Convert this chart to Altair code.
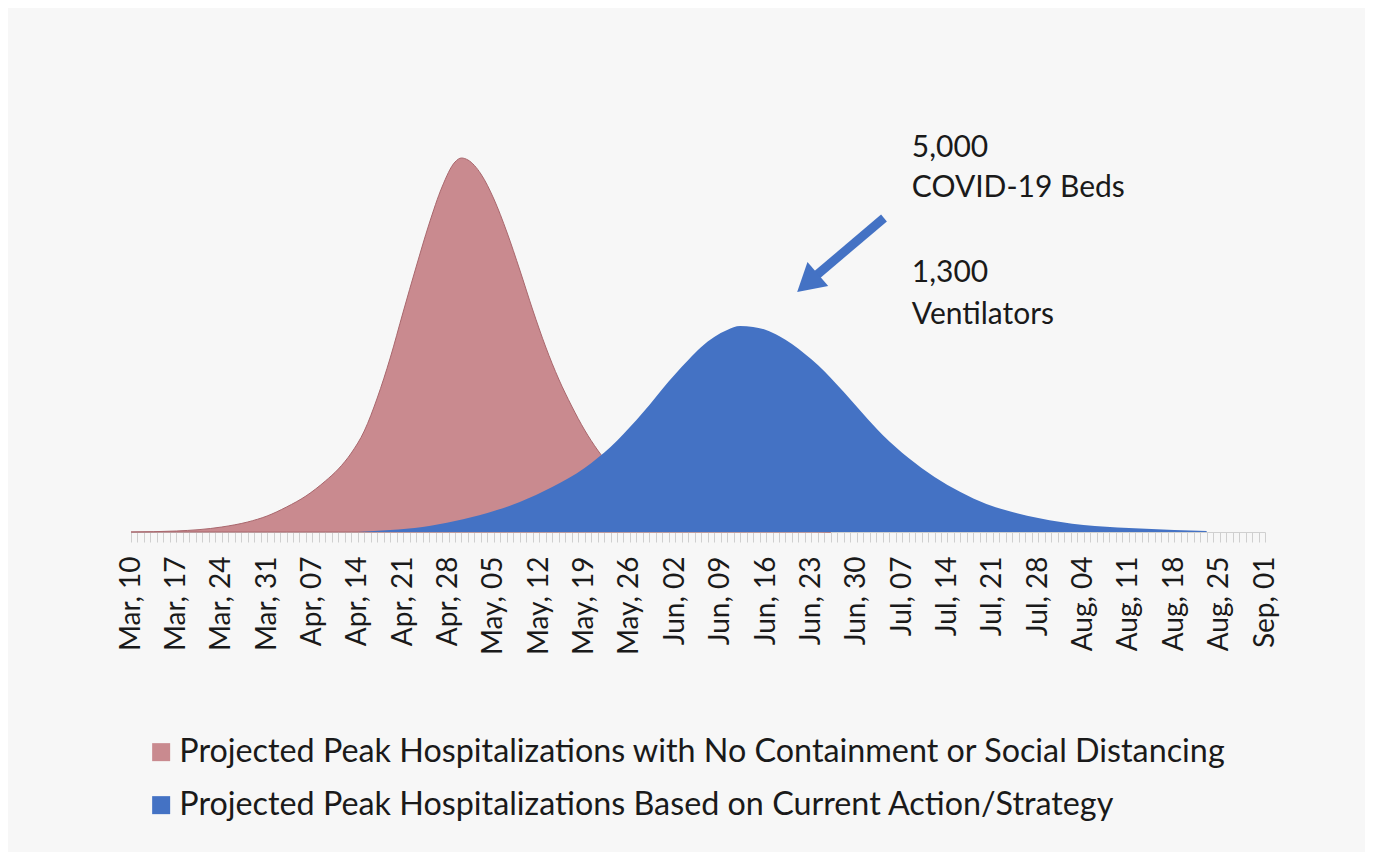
import json
import altair as alt
import pandas as pd

# ---- data (day offsets from Mar 10, 2020; relative heights) ----
tick_labels = ["Mar, 10", "Mar, 17", "Mar, 24", "Mar, 31", "Apr, 07", "Apr, 14", "Apr, 21",
               "Apr, 28", "May, 05", "May, 12", "May, 19", "May, 26", "Jun, 02", "Jun, 09",
               "Jun, 16", "Jun, 23", "Jun, 30", "Jul, 07", "Jul, 14", "Jul, 21", "Jul, 28",
               "Aug, 04", "Aug, 11", "Aug, 18", "Aug, 25", "Sep, 01"]

red_days = [0, 7, 14, 18, 21, 24, 27, 30, 32, 34, 36, 38, 40, 42, 44, 46, 48, 50, 51, 52,
            54, 56, 58, 60, 62, 64, 66, 68, 70, 72, 75, 78, 82, 86, 90, 95, 100, 108]
red_vals = [0, 1, 5, 10, 16, 25, 36, 51, 63, 79, 101, 134, 174, 220, 265, 308, 345, 370, 374,
            372, 358, 333, 300, 262, 222, 185, 153, 126, 102, 82, 58, 40, 24, 14, 8, 4, 2, 0]

blue_days = [35, 40, 45, 50, 55, 60, 65, 70, 72, 74, 76, 78, 80, 82, 84, 86, 88, 90, 92, 94,
             96, 98, 100, 102, 104, 106, 110, 113, 116, 120, 124, 128, 132, 136, 140, 147,
             154, 161, 166]
blue_vals = [0, 2, 5, 11, 19, 30, 45, 64, 74, 85, 98, 112, 127, 143, 158, 172, 185, 195, 202,
             206, 205, 202, 196, 188, 178, 167, 140, 118, 97, 74, 55, 40, 28, 20, 14, 7, 4, 2,
             1]

S_RED = "Projected Peak Hospitalizations with No Containment or Social Distancing"
S_BLUE = "Projected Peak Hospitalizations Based on Current Action/Strategy"

ann_text = ["5,000", "COVID-19 Beds", "1,300", "Ventilators"]
ann_day = [120.5, 120.5, 120.5, 120.5]
ann_val = [384, 344, 259, 217]

arrow_start = (116.2, 314)
arrow_end = (105.1, 253)
arrow_head = (104.4, 249)

RED = "#c98a8f"
BLUE = "#4472c4"
FONT = "Lato"
TEXT = "#1a1a1a"

red_df = pd.DataFrame({"day": red_days, "value": red_vals, "series": S_RED})
blue_df = pd.DataFrame({"day": blue_days, "value": blue_vals, "series": S_BLUE})
ann_df = pd.DataFrame({"day": ann_day, "value": ann_val, "text": ann_text})
arrow_df = pd.DataFrame({"day": [arrow_start[0]], "value": [arrow_start[1]],
                         "day2": [arrow_end[0]], "value2": [arrow_end[1]]})
head_df = pd.DataFrame({"day": [arrow_head[0]], "value": [arrow_head[1]]})

label_expr = ("datum.value % 7 === 0 ? " + json.dumps(tick_labels) +
              "[datum.value / 7] : ''")

x_enc = alt.X("day:Q",
              scale=alt.Scale(domain=[0, 175], nice=False, zero=False),
              axis=alt.Axis(values=list(range(176)), tickCount=400, labelExpr=label_expr,
                            labelAngle=-90, labelFont=FONT, labelFontSize=28,
                            labelColor=TEXT, labelPadding=14, labelOverlap=False,
                            labelFlush=False, tickSize=10, tickColor="#cfcfcf",
                            domainColor="#d0d0d0", grid=False, title=None))
y_enc = alt.Y("value:Q", scale=alt.Scale(domain=[0, 400], nice=False), axis=None)

color_enc = alt.Color("series:N",
                      scale=alt.Scale(domain=[S_RED, S_BLUE], range=[RED, BLUE]),
                      legend=alt.Legend(title=None, orient="none", legendX=14, legendY=604,
                                        symbolType="square", symbolSize=324,
                                        symbolStrokeWidth=0, labelFont=FONT,
                                        labelFontSize=32.3, labelColor=TEXT, labelLimit=0,
                                        rowPadding=20, labelOffset=2))

red_area = alt.Chart(red_df).mark_area(interpolate="monotone", stroke="#a9676d",
                                       strokeWidth=1).encode(x=x_enc, y=y_enc, color=color_enc)
blue_area = alt.Chart(blue_df).mark_area(interpolate="monotone").encode(
    x="day:Q", y="value:Q", color=color_enc)

ann = alt.Chart(ann_df).mark_text(align="left", baseline="middle", font=FONT, fontSize=30,
                                  color=TEXT).encode(x="day:Q", y="value:Q", text="text:N")

shaft = alt.Chart(arrow_df).mark_rule(color=BLUE, strokeWidth=9).encode(
    x="day:Q", y="value:Q", x2="day2:Q", y2="value2:Q")
head = alt.Chart(head_df).mark_point(shape="triangle-up", filled=True, size=1000, angle=229,
                                     color=BLUE, opacity=1).encode(x="day:Q", y="value:Q")

chart = alt.layer(red_area, blue_area, shaft, head, ann).properties(
    width=1134, height=400,
    background="#f7f7f7",
    padding={"left": 123, "top": 124, "right": 100, "bottom": 320},
    autosize=alt.AutoSizeParams(type="none"),
).configure_view(stroke=None)

chart.save("out.html", embed_options={"renderer": "svg", "actions": False})
